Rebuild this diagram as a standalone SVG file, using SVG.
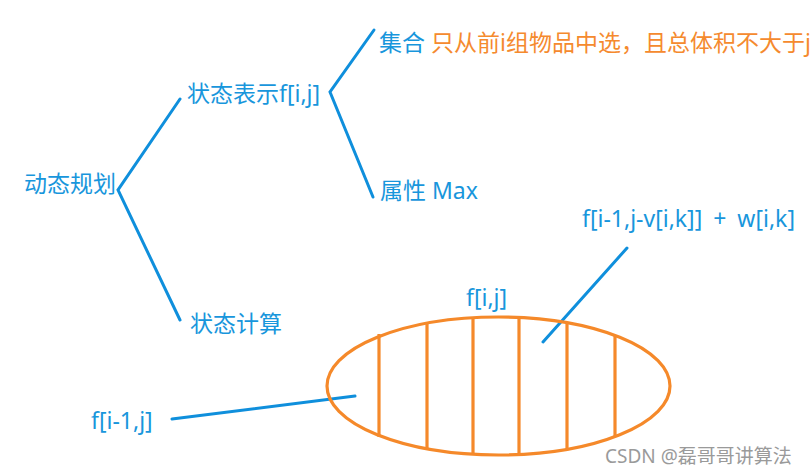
<svg xmlns="http://www.w3.org/2000/svg" width="812" height="474" viewBox="0 0 812 474">
<style>
.t{font-family:"Noto Sans","Noto Sans CJK SC",sans-serif;font-size:23px;fill:#1896dc}
.o{fill:#f58a2e}
.ln{stroke:#0f8fdc;stroke-width:3;fill:none;stroke-linecap:round}
.or{stroke:#f5892a;stroke-width:3.2;fill:none}
.wm{font-family:"Noto Sans","Noto Sans CJK SC",sans-serif;font-size:19px;fill:#9a9a9a}
</style>
<rect width="812" height="474" fill="#ffffff"/>
<g id="connectors">
<polyline class="ln" points="180,99 118,190 180,320"/>
<polyline class="ln" points="374,30 330,92 373,197"/>
<line class="ln" x1="172" y1="419" x2="355" y2="396"/>
<line class="ln" x1="543" y1="342" x2="627" y2="248"/>
</g>
<g id="root"><text class="t" x="24" y="192">动态规划</text></g>
<g id="state"><text class="t" x="187" y="102">状态表示f[i,j]</text></g>
<g id="set"><text class="t" x="379" y="51">集合 <tspan class="o">只从前i组物品中选，且总体积不大于j</tspan></text></g>
<g id="attr"><text class="t" x="380" y="199">属性 Max</text></g>
<g id="calc"><text class="t" x="190" y="332">状态计算</text></g>
<g id="ellipse">
<ellipse class="or" cx="498.5" cy="386" rx="171.5" ry="69"/>
<line class="or" x1="379" y1="334" x2="379" y2="437"/>
<line class="or" x1="427" y1="322" x2="427" y2="449"/>
<line class="or" x1="473" y1="318" x2="473" y2="454"/>
<line class="or" x1="519" y1="318" x2="519" y2="454"/>
<line class="or" x1="567" y1="323" x2="567" y2="449"/>
<line class="or" x1="615" y1="336" x2="615" y2="436"/>
</g>
<g id="fij"><text class="t" x="466" y="306">f[i,j]</text></g>
<g id="fprev"><text class="t" x="91" y="429">f[i-1,j]</text></g>
<g id="fk"><text class="t" x="582" y="227" word-spacing="5">f[i-1,j-v[i,k]] + w[i,k]</text></g>
<text class="wm" x="605" y="463" font-size="19.5">CSDN @磊哥哥讲算法</text>
</svg>
